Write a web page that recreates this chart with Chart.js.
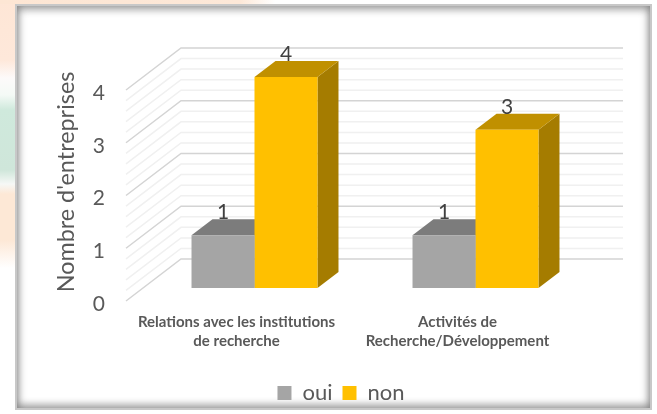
<!DOCTYPE html>
<html lang="fr">
<head>
<meta charset="utf-8">
<style>
html,body{margin:0;padding:0;width:657px;height:414px;overflow:hidden;background:#fff}
#bg{position:absolute;left:0;top:0;width:657px;height:414px;
background:
 linear-gradient(90deg,#fde6d4 0,#fde8d8 240px,#fff 275px) 0 0/657px 4px no-repeat,
 linear-gradient(180deg,#fee6d6 0,#fee8da 60px,#fdfafa 78px,#f4faf6 95px,#cfe9dc 110px,#cfe6da 170px,#f6f8f6 184px,#fde8d6 194px,#fde8d6 240px,#fff 268px,#fff 414px) 0 0/15px 414px no-repeat,
 #fff;}
#frame{position:absolute;left:15px;top:4px;width:633px;height:402px;background:#fff;border:2px solid #c8c8c8;
box-shadow:inset 0 0 10px 1px rgba(0,0,0,.36),inset 0 5px 7px rgba(0,0,0,.14),inset 0 -4px 7px rgba(0,0,0,.16)}
canvas{position:absolute;left:0;top:0}
</style>
</head>
<body>
<div id="bg"></div><div id="frame"></div>
<canvas id="c" width="657" height="414"></canvas>
<script src="https://cdn.jsdelivr.net/npm/chart.js@4"></script>
<script>
const categories = [["Relations avec les institutions","de recherche"],["Activités de","Recherche/Développement"]];
const oui = [1,1];
const non = [4,3];
const seriesNames = ["oui","non"];
const yTicksMax = 4;
const axisTitle = "Nombre d'entreprises";

const FONT = "Lato, Carlito, 'Open Sans', sans-serif";
const WALL = {dx:55, dy:-42};       // depth of the 3D box
const BAR_SHIFT = {dx:18, dy:-13};  // bars stand partway into the box
const BAR_DEPTH = {dx:21, dy:-16};
const LEGEND_SHIFT = 57;

const faces = {
  "oui":{top:"#7C7C7C",side:"#7C7C7C"},
  "non":{top:"#C09000",side:"#A57C00"}
};

const wallPlugin = {
  id:"wall",
  afterLayout(chart){
    chart.legend.left += LEGEND_SHIFT;
    chart.legend.right += LEGEND_SHIFT;
  },
  beforeDatasetsDraw(chart){
    const {ctx,scales:{y,x}} = chart;
    const left = x.left, right = x.right;
    ctx.save();
    for (const major of [false,true]) {
      for (let i=0;i<=yTicksMax*5;i++){
        const isMajor = i%5===0;
        if (isMajor!==major) continue;
        const py = y.getPixelForValue(i/5);
        ctx.beginPath();
        ctx.moveTo(left,py);
        ctx.lineTo(left+WALL.dx,py+WALL.dy);
        ctx.lineTo(right+WALL.dx,py+WALL.dy);
        ctx.strokeStyle = major ? "#D4D4D4" : "#F0F0F0";
        ctx.lineWidth = 1.5;
        ctx.stroke();
      }
    }
    ctx.restore();
    ctx.save();
    ctx.translate(BAR_SHIFT.dx,BAR_SHIFT.dy);
    chart.data.datasets.forEach((ds,di)=>{
      const f = faces[ds.label];
      chart.getDatasetMeta(di).data.forEach(b=>{
        const l=b.x-b.width/2,r=b.x+b.width/2,t=b.y,bot=b.base;
        ctx.fillStyle=f.side;
        ctx.beginPath();
        ctx.moveTo(r,t);ctx.lineTo(r+BAR_DEPTH.dx,t+BAR_DEPTH.dy);
        ctx.lineTo(r+BAR_DEPTH.dx,bot+BAR_DEPTH.dy);ctx.lineTo(r,bot);
        ctx.closePath();ctx.fill();
        ctx.fillStyle=f.top;
        ctx.beginPath();
        ctx.moveTo(l,t);ctx.lineTo(l+BAR_DEPTH.dx,t+BAR_DEPTH.dy);
        ctx.lineTo(r+BAR_DEPTH.dx,t+BAR_DEPTH.dy);ctx.lineTo(r,t);
        ctx.closePath();ctx.fill();
      });
    });
    ctx.restore();
    // the bars' front faces are drawn by Chart.js inside this shift
    ctx.save();
    ctx.translate(BAR_SHIFT.dx,BAR_SHIFT.dy);
  },
  afterDatasetsDraw(chart){
    const {ctx} = chart;
    ctx.restore();
    ctx.save();
    ctx.translate(BAR_SHIFT.dx,BAR_SHIFT.dy);
    ctx.fillStyle="#404040";
    ctx.font="21px "+FONT;
    ctx.textAlign="center";
    ctx.textBaseline="alphabetic";
    chart.data.datasets.forEach((ds,di)=>{
      chart.getDatasetMeta(di).data.forEach((b,i)=>{
        ctx.fillText(String(ds.data[i]),b.x,b.y-16);
      });
    });
    ctx.restore();
    ctx.save();
    ctx.translate(66,182);
    ctx.rotate(-Math.PI/2);
    ctx.fillStyle="#595959";
    ctx.font="23.4px "+FONT;
    ctx.textAlign="center";
    ctx.textBaseline="middle";
    ctx.fillText(axisTitle,0,0);
    ctx.restore();
  }
};

new Chart(document.getElementById("c"),{
  type:"bar",
  data:{
    labels:categories,
    datasets:[
      {label:seriesNames[0],data:oui,backgroundColor:"#A5A5A5",clip:false},
      {label:seriesNames[1],data:non,backgroundColor:"#FFC000",clip:false}
    ]
  },
  plugins:[wallPlugin],
  options:{
    responsive:false,
    animation:false,
    events:[],
    layout:{padding:{left:0,right:89,top:90,bottom:0}},
    datasets:{bar:{categoryPercentage:0.57,barPercentage:1}},
    scales:{
      x:{
        grid:{display:false},border:{display:false},
        ticks:{color:"#595959",font:{family:FONT,size:15,weight:"bold",lineHeight:1.27},padding:4,maxRotation:0,minRotation:0,autoSkip:false},
        afterFit(s){s.height=71;}
      },
      y:{
        min:0,max:yTicksMax,
        grid:{display:false},border:{display:false},
        ticks:{stepSize:1,color:"#595959",font:{family:FONT,size:21},padding:13,labelOffset:3},
        afterFit(s){s.width=126;}
      }
    },
    plugins:{
      tooltip:{enabled:false},
      title:{display:false},
      legend:{
        position:"bottom",
        labels:{boxWidth:14,boxHeight:14,padding:10,color:"#595959",font:{family:FONT,size:22}}
      }
    }
  }
});
</script>
</body>
</html>
